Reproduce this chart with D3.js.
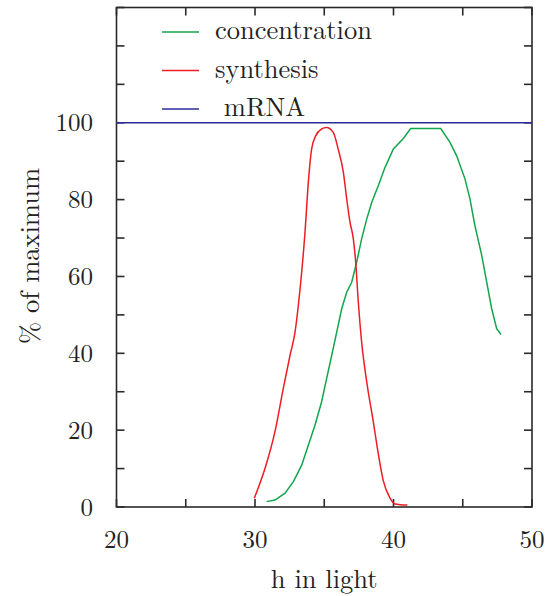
<!DOCTYPE html>
<html lang="en">
<head>
<meta charset="UTF-8">
<title>chart</title>
<script src="https://cdn.jsdelivr.net/npm/d3@7"></script>
<style>
  * { margin: 0; padding: 0; }
  body { background: #fff; }
  svg text { font-family: "Latin Modern Roman", "DejaVu Serif", serif; fill: #222; }
</style>
</head>
<body>
<script>
// series: [h in light, % of maximum]
let synthesis = [
  [29.95, 2.3], [30.72, 10], [31.44, 19.6], [32.04, 30.8], [32.53, 39.5], [32.89, 45.5],
  [33.13, 52.5], [33.37, 61.1], [33.61, 71.5], [33.85, 84.5], [34.09, 93.2], [34.38, 96.6],
  [34.81, 98.4], [35.17, 98.8], [35.65, 97.5], [36.0, 93.2], [36.38, 87.1], [36.62, 80.2],
  [36.86, 74.1], [37.1, 69.8], [37.27, 63.7], [37.46, 53.3], [37.7, 42.9], [38.07, 32.5],
  [38.54, 22.2], [38.85, 15], [39.25, 7], [39.75, 2.3], [40.1, 0.8], [41.0, 0.5]
];
let concentration = [
  [30.84, 1.4], [31.44, 1.8], [32.17, 3.6], [32.77, 6.6], [33.37, 10.9], [33.85, 16.1],
  [34.33, 21.3], [34.81, 27.4], [35.17, 33.4], [35.54, 39.5], [35.9, 45.5], [36.26, 51.6],
  [36.62, 55.9], [36.98, 58.5], [37.34, 63.7], [37.7, 69.8], [38.07, 75], [38.43, 79.3],
  [38.9, 83.6], [39.39, 88.4], [39.99, 93.2], [40.71, 95.9], [41.24, 98.5], [43.41, 98.5],
  [44.08, 94.9], [44.56, 91.4], [45.16, 85.4], [45.52, 80.2], [45.88, 73.2], [46.37, 65.5],
  [46.73, 58.5], [47.09, 51.6], [47.45, 46.4], [47.76, 44.9]
];
let mRNA = [[20, 100], [50, 100]];
let xTicks = [20, 30, 40, 50];
let yTicks = [0, 20, 40, 60, 80, 100];
let legendNames = ["concentration", "synthesis", " mRNA"];
let legendColors = ["#12a64c", "#ee1c24", "#2b2b9c"];

let W = 548, H = 596;
let mLeft = 116.5, mRight = 532, mTop = 7.5, mBottom = 507;

let svg = d3.select("body").append("svg")
  .attr("width", W).attr("height", H);

let x = d3.scaleLinear().domain([20, 50]).range([mLeft, mRight]);
let y = d3.scaleLinear().domain([0, 130]).range([mBottom, mTop]);

let tickLen = 8;
let axisG = svg.append("g").attr("stroke", "#2a2a2a").attr("stroke-width", 1.6);

// inward ticks on all four sides
d3.range(20, 50.1, 5).forEach(function (v) {
  axisG.append("line").attr("x1", x(v)).attr("x2", x(v)).attr("y1", mBottom).attr("y2", mBottom - tickLen);
  axisG.append("line").attr("x1", x(v)).attr("x2", x(v)).attr("y1", mTop).attr("y2", mTop + tickLen);
});
d3.range(0, 130.1, 10).forEach(function (v) {
  axisG.append("line").attr("x1", mLeft).attr("x2", mLeft + tickLen).attr("y1", y(v)).attr("y2", y(v));
  axisG.append("line").attr("x1", mRight).attr("x2", mRight - tickLen).attr("y1", y(v)).attr("y2", y(v));
});
axisG.append("rect")
  .attr("x", mLeft).attr("y", mTop)
  .attr("width", mRight - mLeft).attr("height", mBottom - mTop)
  .attr("fill", "none");

// tick labels
svg.selectAll(".xl").data(xTicks).enter().append("text")
  .attr("x", function (d) { return x(d); })
  .attr("y", 548)
  .attr("text-anchor", "middle")
  .attr("font-size", 25)
  .text(function (d) { return d; });
svg.selectAll(".yl").data(yTicks).enter().append("text")
  .attr("x", 93)
  .attr("y", function (d) { return y(d) + 8.5; })
  .attr("text-anchor", "end")
  .attr("font-size", 25)
  .text(function (d) { return d; });

// axis titles
svg.append("text")
  .attr("x", (mLeft + mRight) / 2).attr("y", 588)
  .attr("text-anchor", "middle").attr("font-size", 26.5)
  .text("h in light");
svg.append("text")
  .attr("transform", "translate(39,256) rotate(-90)")
  .attr("text-anchor", "middle").attr("font-size", 26.5)
  .text("% of maximum");

let line = d3.line()
  .x(function (d) { return x(d[0]); })
  .y(function (d) { return y(d[1]); });
let smooth = d3.line()
  .curve(d3.curveMonotoneX)
  .x(function (d) { return x(d[0]); })
  .y(function (d) { return y(d[1]); });

[concentration, synthesis, mRNA].forEach(function (s, i) {
  svg.append("path")
    .attr("d", i === 1 ? smooth(s) : line(s))
    .attr("fill", "none")
    .attr("stroke", legendColors[i])
    .attr("stroke-width", 1.5);
});

// legend
legendNames.forEach(function (name, i) {
  let ly = 32 + i * 38.5;
  svg.append("line")
    .attr("x1", 162).attr("x2", 199).attr("y1", ly).attr("y2", ly)
    .attr("stroke", legendColors[i]).attr("stroke-width", 1.5);
  svg.append("text")
    .attr("x", 215).attr("y", ly + 7)
    .attr("font-size", 26.5)
    .attr("xml:space", "preserve")
    .style("white-space", "pre")
    .text(name);
});
</script>
</body>
</html>
